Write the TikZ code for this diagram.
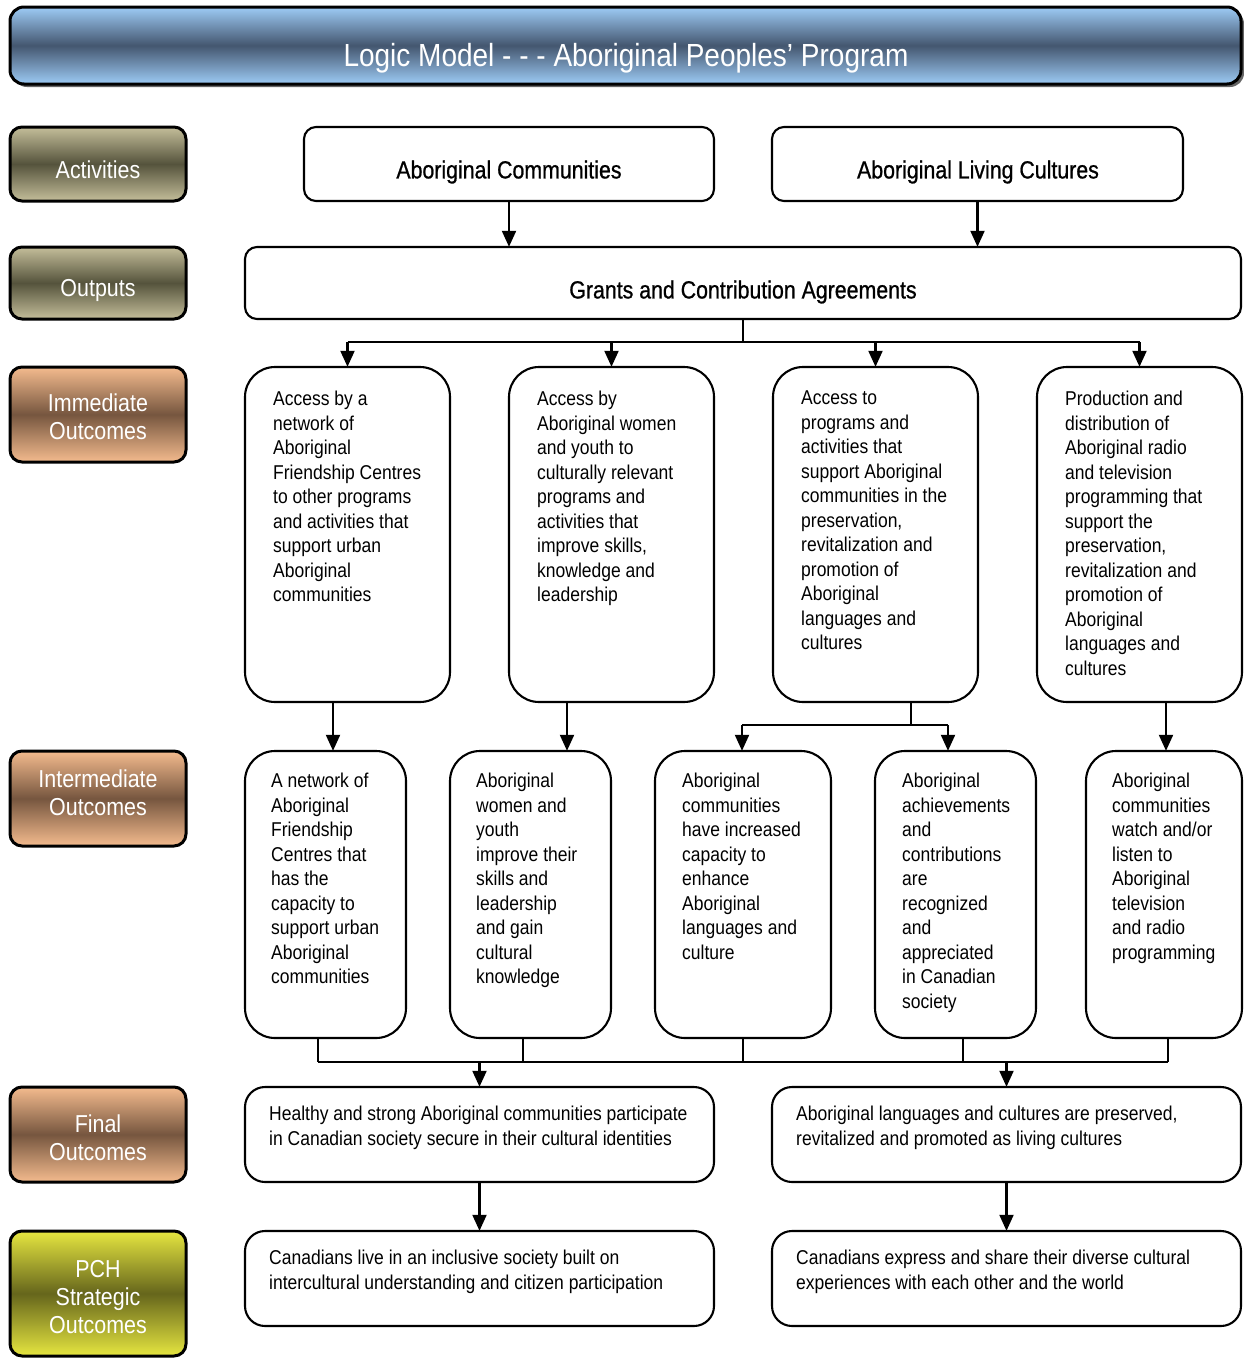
\documentclass[tikz,border=0pt]{standalone}
\usepackage{fontspec}
\setmainfont[FakeStretch=0.875]{Liberation Sans}
\newfontfamily\headfont[FakeStretch=0.86,FakeBold=0.8]{Liberation Sans}
\usetikzlibrary{arrows.meta,calc}
\definecolor{tblue}{HTML}{9DCBF5}
\definecolor{tdark}{HTML}{44566F}
\definecolor{khakiL}{HTML}{C4BE9A}
\definecolor{khakiD}{HTML}{55533C}
\definecolor{peachL}{HTML}{F4BB8E}
\definecolor{peachD}{HTML}{76563F}
\definecolor{yelL}{HTML}{E6E640}
\definecolor{yelD}{HTML}{66661C}
\tikzset{
  lbl/.style={draw=black, line width=3pt, rounded corners=12pt, minimum width=176pt, text=white, align=center},
  khaki/.style={lbl, top color=khakiL, bottom color=khakiL, middle color=khakiD},
  peach/.style={lbl, top color=peachL, bottom color=peachL, middle color=peachD},
  yel/.style={lbl, top color=yelL, bottom color=yelL, middle color=yelD},
  lbltxt/.style={inner sep=0pt, text=white, align=center, font=\fontsize{24.5}{28}\selectfont},
  head/.style={inner sep=0pt, font=\headfont\fontsize{24.8}{28}\selectfont},
  box/.style={draw=black, line width=2.1pt, fill=white},
  txt/.style={anchor=north west, inner sep=0pt, align=left, font=\fontsize{20}{24.5}\selectfont},
  conn/.style={line width=2.1pt},
  arr/.style={line width=2.1pt, -{Triangle[length=16pt,width=14pt]}},
}
\begin{document}
\begin{tikzpicture}[x=1pt,y=-1pt]
\useasboundingbox (0,0) rectangle (1243,1358);
% title
\fill[black!60, rounded corners=14pt] (13,10) rectangle (1244,87);
\node[draw=black, line width=3pt, rounded corners=14pt, top color=tblue, bottom color=tblue, middle color=tdark,
  minimum width=1231pt, minimum height=77pt, inner sep=0pt] (title) at (625.5,45.5) {};
\node[text=white, font=\fontsize{32}{36}\selectfont, inner sep=0pt] (titletext) at (626,58.5) {Logic Model - - - Aboriginal Peoples’ Program};
% left labels
\node[khaki, minimum height=74pt] (lact) at (98,164) {};
\node[lbltxt] (lactt) at (98,170) {Activities};
\node[khaki, minimum height=72pt] (lout) at (98,283) {};
\node[lbltxt] (loutt) at (98,290) {Outputs};
\node[peach, minimum height=95pt] (limm) at (98,414.5) {};
\node[lbltxt] (limmt) at (98,417) {Immediate\\Outcomes};
\node[peach, minimum height=95pt] (lint) at (98,798.5) {};
\node[lbltxt] (lintt) at (98,793) {Intermediate\\Outcomes};
\node[peach, minimum height=95pt] (lfin) at (98,1134.5) {};
\node[lbltxt] (lfint) at (98,1138) {Final\\Outcomes};
\node[yel, minimum height=125pt] (lpch) at (98,1293.5) {};
\node[lbltxt] (lpcht) at (98,1297) {PCH\\Strategic\\Outcomes};
% activities
\draw[box, rounded corners=12pt] (304,127) rectangle (714,201);
\node[inner sep=0pt, minimum width=410pt, minimum height=74pt] (ac) at (509,164) {};
\node[head] (act) at (509,172) {Aboriginal Communities};
\draw[box, rounded corners=12pt] (772,127) rectangle (1183,201);
\node[inner sep=0pt, minimum width=411pt, minimum height=74pt] (alc) at (977.5,164) {};
\node[head] (alct) at (978,172) {Aboriginal Living Cultures};
% outputs
\draw[box, rounded corners=12pt] (245,247) rectangle (1241,319);
\node[inner sep=0pt, minimum width=996pt, minimum height=72pt] (gr) at (743,283) {};
\node[head] (grt) at (743,292) {Grants and Contribution Agreements};
% immediate boxes
\foreach \n/\xa/\xb in {im1/245/450, im2/509/714, im3/773/978, im4/1037/1242}{
  \draw[box, rounded corners=30pt] (\xa,367) rectangle (\xb,702);
  \node[inner sep=0pt, minimum width={\xb-\xa}, minimum height=335pt] (\n) at ({(\xa+\xb)/2},534.5) {};
}
\node[txt] (im1t) at (273,391) {Access by a\\network of\\Aboriginal\\Friendship Centres\\to other programs\\and activities that\\support urban\\Aboriginal\\communities};
\node[txt] (im2t) at (537,391) {Access by\\Aboriginal women\\and youth to\\culturally relevant\\programs and\\activities that\\improve skills,\\knowledge and\\leadership};
\node[txt] (im3t) at (801,391) {Access to\\programs and\\activities that\\support Aboriginal\\communities in the\\preservation,\\revitalization and\\promotion of\\Aboriginal\\languages and\\cultures};
\node[txt] (im4t) at (1065,391) {Production and\\distribution of\\Aboriginal radio\\and television\\programming that\\support the\\preservation,\\revitalization and\\promotion of\\Aboriginal\\languages and\\cultures};
% intermediate boxes
\foreach \n/\xa/\xb in {in1/245/406, in2/450/611, in3/655/831, in4/875/1036, in5/1086/1242}{
  \draw[box, rounded corners=30pt] (\xa,751) rectangle (\xb,1038);
  \node[inner sep=0pt, minimum width={\xb-\xa}, minimum height=287pt] (\n) at ({(\xa+\xb)/2},894.5) {};
}
\node[txt] (in1t) at (271,773) {A network of\\Aboriginal\\Friendship\\Centres that\\has the\\capacity to\\support urban\\Aboriginal\\communities};
\node[txt] (in2t) at (476,773) {Aboriginal\\women and\\youth\\improve their\\skills and\\leadership\\and gain\\cultural\\knowledge};
\node[txt] (in3t) at (682,773) {Aboriginal\\communities\\have increased\\capacity to\\enhance\\Aboriginal\\languages and\\culture};
\node[txt] (in4t) at (902,773) {Aboriginal\\achievements\\and\\contributions\\are\\recognized\\and\\appreciated\\in Canadian\\society};
\node[txt] (in5t) at (1112,773) {Aboriginal\\communities\\watch and/or\\listen to\\Aboriginal\\television\\and radio\\programming};
% final & PCH
\foreach \n/\xa/\xb/\ya/\yb in {f1/245/714/1087/1182, f2/772/1241/1087/1182, p1/245/714/1231/1326, p2/772/1241/1231/1326}{
  \draw[box, rounded corners=20pt] (\xa,\ya) rectangle (\xb,\yb);
  \node[inner sep=0pt, minimum width={\xb-\xa}, minimum height={\yb-\ya}] (\n) at ({(\xa+\xb)/2},{(\ya+\yb)/2}) {};
}
\node[txt] (f1t) at (269,1106) {Healthy and strong Aboriginal communities participate\\in Canadian society secure in their cultural identities};
\node[txt] (f2t) at (796,1106) {Aboriginal languages and cultures are preserved,\\revitalized and promoted as living cultures};
\node[txt] (p1t) at (269,1250) {Canadians live in an inclusive society built on\\intercultural understanding and citizen participation};
\node[txt] (p2t) at (796,1250) {Canadians express and share their diverse cultural\\experiences with each other and the world};
% connectors
\draw[arr] (ac.south) -- (ac.south |- gr.north);
\draw[arr] (alc.south) -- (alc.south |- gr.north);
\coordinate (gj) at (743,342);
\draw[conn] (gr.south) -- (gj);
\draw[conn] (im1.north |- gj) -- (im4.north |- gj);
\foreach \n in {im1,im2,im3,im4}{ \draw[arr] (\n.north |- gj) -- (\n.north); }
\coordinate (x1) at (333,0);
\coordinate (x2) at (567,0);
\coordinate (x3) at (911,725);
\coordinate (x4) at (742,0);
\coordinate (x5) at (948,0);
\coordinate (x6) at (1166,0);
\draw[arr] (x1 |- im1.south) -- (x1 |- in1.north);
\draw[arr] (x2 |- im2.south) -- (x2 |- in2.north);
\draw[conn] (x3 |- im3.south) -- (x3);
\draw[conn] (x4 |- x3) -- (x5 |- x3);
\draw[arr] (x4 |- x3) -- (x4 |- in3.north);
\draw[arr] (x5 |- x3) -- (x5 |- in4.north);
\draw[arr] (x6 |- im4.south) -- (x6 |- in5.north);
\coordinate (bj) at (0,1062);
\coordinate (b1) at (318,0);
\coordinate (b2) at (523,0);
\coordinate (b3) at (743,0);
\coordinate (b4) at (963,0);
\coordinate (b5) at (1168,0);
\draw[conn] (b1 |- in1.south) -- (b1 |- bj);
\draw[conn] (b2 |- in2.south) -- (b2 |- bj);
\draw[conn] (b3 |- in3.south) -- (b3 |- bj);
\draw[conn] (b4 |- in4.south) -- (b4 |- bj);
\draw[conn] (b5 |- in5.south) -- (b5 |- bj);
\draw[conn] (b1 |- bj) -- (b5 |- bj);
\draw[arr] (f1.north |- bj) -- (f1.north);
\draw[arr] (f2.north |- bj) -- (f2.north);
\draw[arr] (f1.south) -- (p1.north);
\draw[arr] (f2.south) -- (p2.north);
\end{tikzpicture}
\end{document}
